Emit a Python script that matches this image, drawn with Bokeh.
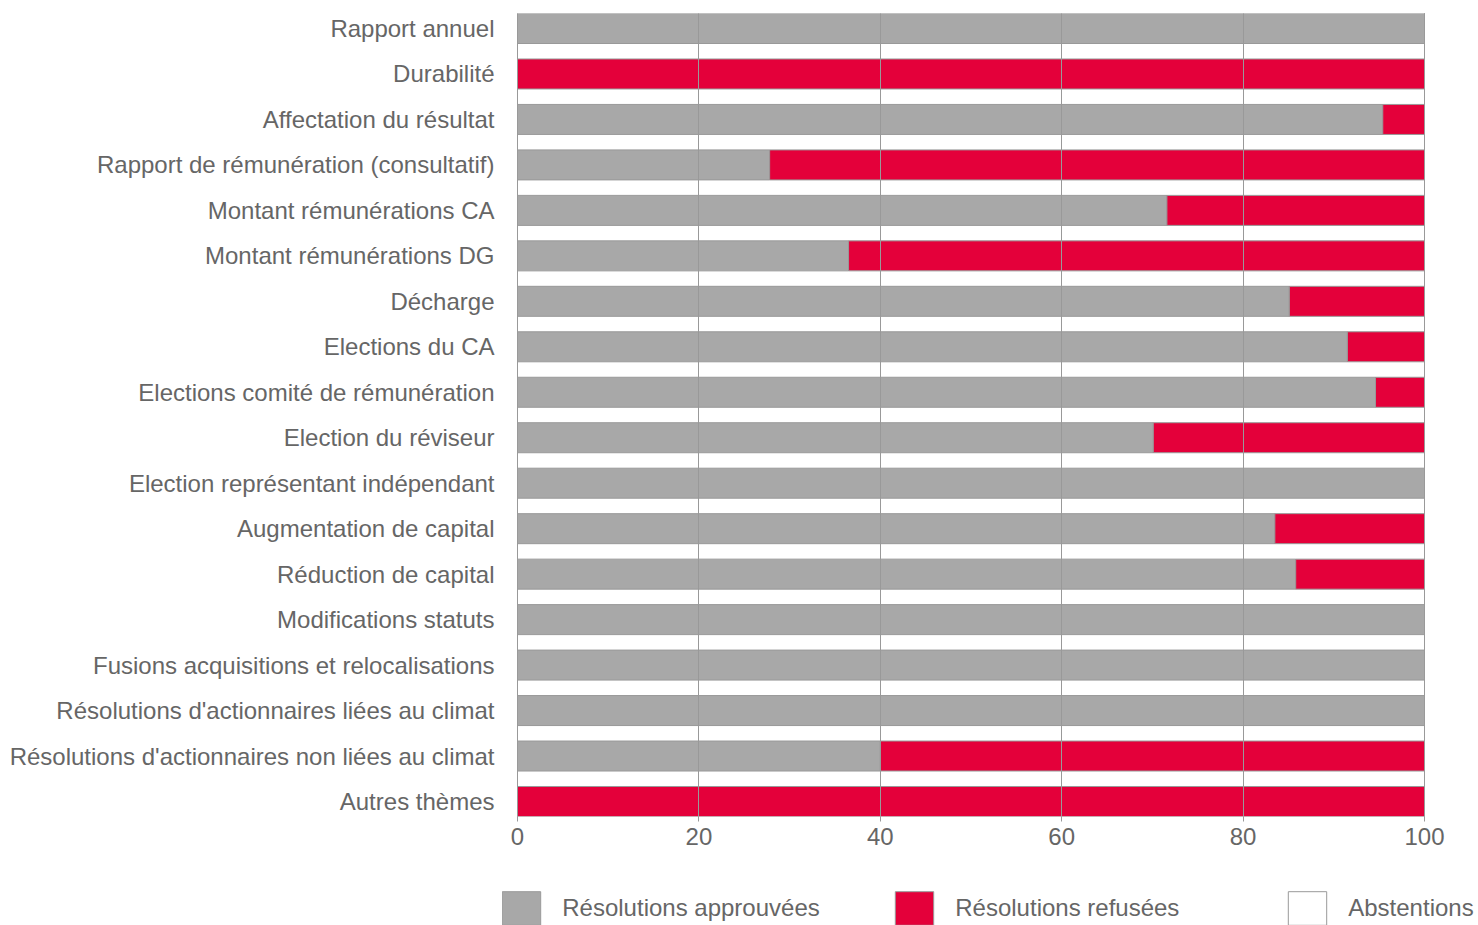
from bokeh.plotting import figure
from bokeh.layouts import column
from bokeh.models import ColumnDataSource, FactorRange, Range1d, FixedTicker, Legend, LegendItem
from bokeh.embed import file_html
from bokeh.resources import INLINE

categories = [
    "Rapport annuel",
    "Durabilité",
    "Affectation du résultat",
    "Rapport de rémunération (consultatif)",
    "Montant rémunérations CA",
    "Montant rémunérations DG",
    "Décharge",
    "Elections du CA",
    "Elections comité de rémunération",
    "Election du réviseur",
    "Election représentant indépendant",
    "Augmentation de capital",
    "Réduction de capital",
    "Modifications statuts",
    "Fusions acquisitions et relocalisations",
    "Résolutions d'actionnaires liées au climat",
    "Résolutions d'actionnaires non liées au climat",
    "Autres thèmes",
]
approved = [100, 0, 95.4, 27.8, 71.6, 36.5, 85.1, 91.5, 94.6, 70.1, 100, 83.5, 85.8, 100, 100, 100, 40.0, 0]
refused = [0, 100, 4.6, 72.2, 28.4, 63.5, 14.9, 8.5, 5.4, 29.9, 0, 16.5, 14.2, 0, 0, 0, 60.0, 100]
abstentions = [0] * 18
series_names = ["Résolutions approuvées", "Résolutions refusées", "Abstentions"]
x_ticks = [0, 20, 40, 60, 80, 100]

GREY = "#A8A8A8"
RED = "#E4003A"
TEXT = "#666666"
LINE = "#999999"
FONT = "Liberation Sans"
FS = "24px"
COLORS = [GREY, RED, "white"]

# layout (pixels)
W = 1478
FRAME_L = 502          # shared frame left edge (legend start)
ZERO_PX, HUNDRED_PX = 517, 1424
H, FRAME_T, FRAME_B = 868, 13, 816
LH = 925 - H

px_per_unit = (HUNDRED_PX - ZERO_PX) / 100.0
x_start = -(ZERO_PX - FRAME_L) / px_per_unit
x_end = 100 + (W - HUNDRED_PX) / px_per_unit

source = ColumnDataSource(dict(cat=categories, approved=approved, refused=refused, abstentions=abstentions))

yr = FactorRange(factors=list(reversed(categories)), range_padding=-0.17, range_padding_units="absolute")

p = figure(width=W, height=H, y_range=yr, x_range=Range1d(x_start, x_end),
           output_backend="svg", toolbar_location=None,
           min_border_left=FRAME_L, min_border_right=0, min_border_top=FRAME_T, min_border_bottom=H - FRAME_B)
p.outline_line_color = None

p.hbar_stack(["approved", "refused", "abstentions"], y="cat", height=0.66,
             source=source, fill_color=COLORS, line_color=LINE, line_width=1)

p.xgrid.ticker = FixedTicker(ticks=x_ticks)
p.xgrid.grid_line_color = LINE
p.xgrid.level = "annotation"
p.ygrid.grid_line_color = None

p.xaxis.ticker = FixedTicker(ticks=x_ticks)
p.xaxis.axis_line_color = None
p.xaxis.major_tick_line_color = LINE
p.xaxis.major_tick_out = 5
p.xaxis.major_tick_in = 0
p.xaxis.minor_tick_line_color = None
p.xaxis.major_label_text_font = FONT
p.xaxis.major_label_text_font_size = FS
p.xaxis.major_label_text_color = TEXT
p.xaxis.major_label_standoff = 6

p.yaxis.axis_line_color = None
p.yaxis.major_tick_line_color = None
p.yaxis.minor_tick_line_color = None
p.yaxis.major_label_text_font = FONT
p.yaxis.major_label_text_font_size = FS
p.yaxis.major_label_text_color = TEXT
p.yaxis.major_label_standoff = 2

# legend strip (same frame edges as the chart)
q = figure(width=W, height=LH, x_range=Range1d(0, 1), y_range=Range1d(0, 1),
           output_backend="svg", toolbar_location=None,
           x_axis_location=None, y_axis_location=None,
           min_border_left=FRAME_L, min_border_right=0, min_border_top=0, min_border_bottom=0)
q.outline_line_color = None
q.xgrid.visible = False
q.ygrid.visible = False
# off-range stand-ins that only carry the legend swatch styles
swatch_src = ColumnDataSource(dict(y=[-10.0], right=[0.0]))
leg_renderers = [q.hbar(y="y", right="right", height=0.5, source=swatch_src,
                        fill_color=c, line_color=LINE, line_width=1) for c in COLORS]
# Bokeh draws area swatches at 80% of the glyph box, so the box is enlarged by 1/0.8
GW, GH = 38 / 0.8, 34 / 0.8
STANDOFF = 17
PITCH = 393
legend = Legend(items=[LegendItem(label=n, renderers=[r]) for n, r in zip(series_names, leg_renderers)],
                orientation="horizontal", location=(-0.1 * GW, -0.1 * GH),
                glyph_width=int(round(GW)), glyph_height=int(round(GH)), label_standoff=STANDOFF,
                label_width=int(round(PITCH - GW - STANDOFF)),
                spacing=0, padding=0, margin=0, border_line_color=None,
                background_fill_alpha=0,
                label_text_font=FONT, label_text_font_size=FS, label_text_color=TEXT)
q.add_layout(legend, "center")

open("out.html", "w").write(file_html(column(p, q, spacing=0), INLINE))
